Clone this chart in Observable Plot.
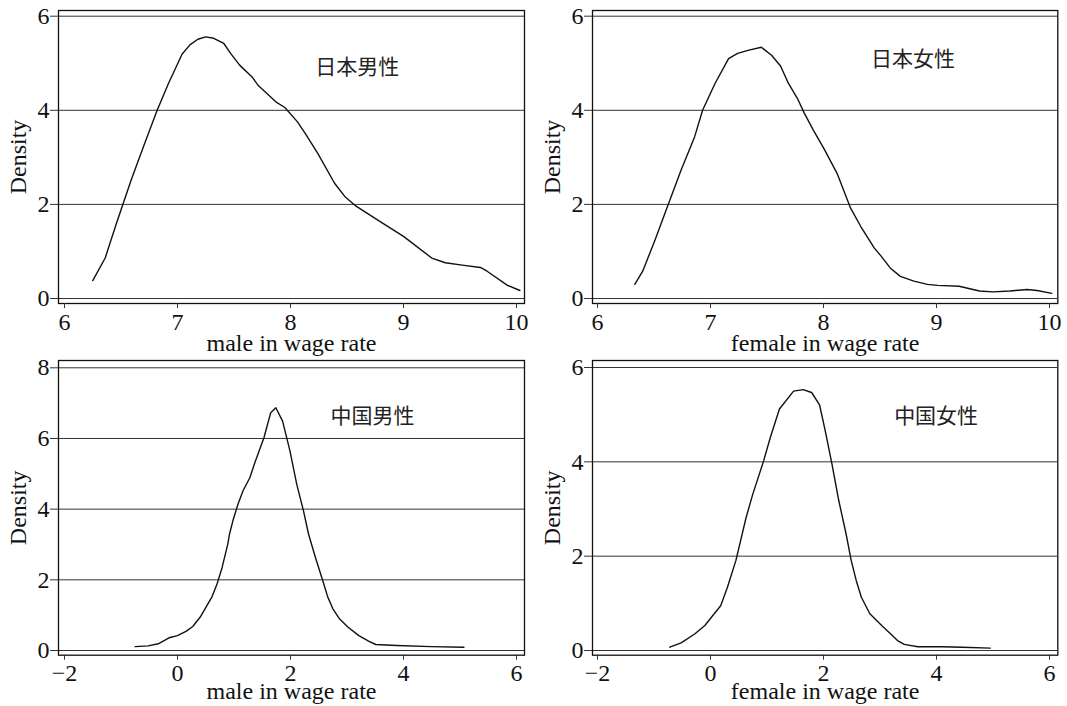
<!DOCTYPE html>
<html><head><meta charset="utf-8">
<script src="https://cdn.jsdelivr.net/npm/d3@7"></script>
<script src="https://cdn.jsdelivr.net/npm/@observablehq/plot@0.6"></script>
<style>
html,body{margin:0;padding:0;background:#fff;}
#chart{position:relative;width:1067px;height:706px;overflow:hidden;background:#fff;}
.panel{position:absolute;}
.panel svg{display:block;overflow:visible;}
</style></head><body><div id="chart"></div>
<script>
// Japan, male (log wage rate vs density)
const jpMaleWage = [6.25,6.36,6.46,6.59,6.71,6.82,6.92,7.04,7.11,7.18,7.25,7.32,7.41,7.47,7.55,7.66,7.71,7.87,7.95,8.06,8.13,8.24,8.39,8.48,8.57,8.79,9.0,9.25,9.37,9.52,9.68,9.74,9.92,10.03];
const jpMaleDensity = [0.38,0.86,1.60,2.52,3.30,4.0,4.57,5.19,5.39,5.51,5.56,5.53,5.42,5.21,4.96,4.71,4.54,4.18,4.06,3.76,3.51,3.09,2.45,2.17,1.98,1.64,1.32,0.86,0.76,0.71,0.66,0.58,0.28,0.17];
// Japan, female
const jpFemaleWage = [6.33,6.40,6.51,6.62,6.74,6.86,6.93,7.04,7.16,7.24,7.34,7.45,7.54,7.62,7.69,7.77,7.83,7.91,8.01,8.12,8.24,8.33,8.45,8.51,8.59,8.68,8.80,8.92,9.01,9.20,9.38,9.50,9.65,9.80,9.89,10.02];
const jpFemaleDensity = [0.30,0.58,1.25,1.96,2.73,3.44,4.0,4.57,5.10,5.21,5.28,5.34,5.17,4.94,4.57,4.25,3.94,3.58,3.16,2.66,1.92,1.53,1.07,0.90,0.65,0.47,0.37,0.30,0.28,0.26,0.16,0.14,0.16,0.19,0.17,0.11];
// China, male
const cnMaleWage = [-0.75,-0.52,-0.34,-0.15,0.0,0.15,0.27,0.40,0.52,0.61,0.70,0.79,0.89,0.92,0.98,1.07,1.16,1.28,1.37,1.53,1.65,1.74,1.86,1.99,2.11,2.23,2.32,2.44,2.57,2.66,2.75,2.87,3.02,3.21,3.39,3.51,3.88,4.49,5.07];
const cnMaleDensity = [0.11,0.13,0.19,0.36,0.42,0.54,0.68,0.94,1.27,1.52,1.88,2.35,3.01,3.29,3.67,4.14,4.52,4.89,5.32,6.02,6.73,6.87,6.49,5.65,4.71,3.95,3.29,2.64,1.98,1.51,1.18,0.89,0.66,0.42,0.26,0.17,0.14,0.11,0.09];
// China, female
const cnFemaleWage = [-0.72,-0.52,-0.28,-0.10,0.02,0.18,0.30,0.45,0.63,0.75,0.94,1.06,1.22,1.47,1.64,1.79,1.93,2.03,2.15,2.27,2.40,2.49,2.58,2.67,2.82,3.03,3.19,3.31,3.43,3.67,4.10,4.46,4.95];
const cnFemaleDensity = [0.07,0.16,0.35,0.53,0.71,0.95,1.34,1.91,2.82,3.32,4.02,4.52,5.12,5.50,5.53,5.47,5.21,4.66,3.95,3.18,2.47,1.91,1.48,1.13,0.78,0.53,0.35,0.21,0.13,0.08,0.08,0.07,0.05];

const panelTitles = ["日本男性", "日本女性", "中国男性", "中国女性"];
const xLabels = ["male in wage rate", "female in wage rate", "male in wage rate", "female in wage rate"];
const topXTicks = [6, 7, 8, 9, 10];
const bottomXTicks = [-2, 0, 2, 4, 6];
const yTicks6 = [0, 2, 4, 6];
const yTicks8 = [0, 2, 4, 6, 8];
const titlePos = [[8.22, 4.91], [8.42, 5.09], [2.71, 6.64], [3.25, 4.97]];

const panels = [
  {left: 0, top: 0, w: 533, h: 350, mT: 10, mB: 47, mL: 58, mR: 9, iL: 6, iR: 8, iT: 5.7, iB: 5, lblDy: 47,
   xs: jpMaleWage, ys: jpMaleDensity, xDomain: [6, 10], yDomain: [0, 6], xTicks: topXTicks, yTicks: yTicks6},
  {left: 533, top: 0, w: 534, h: 350, mT: 10, mB: 47, mL: 59, mR: 9.7, iL: 5, iR: 8.3, iT: 5.7, iB: 5, lblDy: 47,
   xs: jpFemaleWage, ys: jpFemaleDensity, xDomain: [6, 10], yDomain: [0, 6], xTicks: topXTicks, yTicks: yTicks6},
  {left: 0, top: 350, w: 533, h: 356, mT: 10, mB: 51.3, mL: 58, mR: 9, iL: 6, iR: 8, iT: 7.3, iB: 4.7, lblDy: 44,
   xs: cnMaleWage, ys: cnMaleDensity, xDomain: [-2, 6], yDomain: [0, 8], xTicks: bottomXTicks, yTicks: yTicks8},
  {left: 533, top: 350, w: 534, h: 356, mT: 10, mB: 51.3, mL: 59, mR: 9.7, iL: 5, iR: 8.3, iT: 7, iB: 4.7, lblDy: 44,
   xs: cnFemaleWage, ys: cnFemaleDensity, xDomain: [-2, 6], yDomain: [0, 6], xTicks: bottomXTicks, yTicks: yTicks6}
];

const chart = document.getElementById("chart");
panels.forEach((p, k) => {
  const data = p.xs.map((x, i) => ({x, y: p.ys[i]}));
  const svg = Plot.plot({
    width: p.w, height: p.h,
    marginTop: p.mT, marginBottom: p.mB, marginLeft: p.mL, marginRight: p.mR,
    style: {fontFamily: "'Liberation Serif', 'Times New Roman', serif", fontSize: "24px", color: "#111", background: "transparent", overflow: "visible"},
    x: {domain: p.xDomain, insetLeft: p.iL, insetRight: p.iR},
    y: {domain: p.yDomain, insetTop: p.iT, insetBottom: p.iB},
    marks: [
      Plot.gridY(p.yTicks, {stroke: "#333", strokeOpacity: 1, strokeWidth: 1}),
      Plot.frame({stroke: "#111", strokeWidth: 1.3}),
      Plot.axisY(p.yTicks, {tickSize: 8, tickPadding: 1, label: null, stroke: "#333", fontSize: 24}),
      Plot.axisX(p.xTicks, {tickSize: 5, tickPadding: 4, label: null, stroke: "#333", fontSize: 24}),
      Plot.line(data, {x: "x", y: "y", stroke: "#111", strokeWidth: 1.4}),
      Plot.text([{x: titlePos[k][0], y: titlePos[k][1], t: panelTitles[k]}],
        {x: "x", y: "y", text: "t", textAnchor: "start", fontFamily: "'Noto Sans CJK JP', sans-serif", fontSize: 21, fill: "#222"}),
      Plot.text([xLabels[k]], {frameAnchor: "bottom", dy: p.lblDy, textAnchor: "middle", text: d => d, fontSize: 24, fill: "#111"}),
      Plot.text(["Density"], {frameAnchor: "left", dx: -40, rotate: -90, textAnchor: "middle", lineAnchor: "middle", text: d => d, fontSize: 24, fill: "#111"})
    ]
  });
  const div = document.createElement("div");
  div.className = "panel";
  div.style.left = p.left + "px";
  div.style.top = p.top + "px";
  div.appendChild(svg);
  chart.appendChild(div);
});
</script>
</body></html>
